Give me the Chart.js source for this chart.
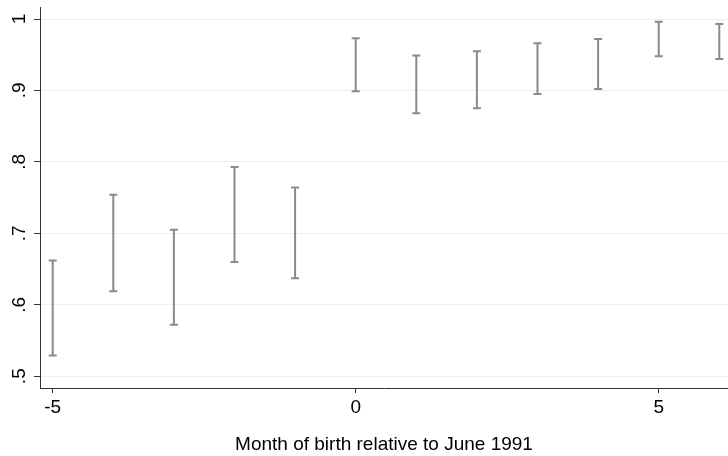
<!DOCTYPE html>
<html>
<head>
<meta charset="utf-8">
<script src="https://cdn.jsdelivr.net/npm/chart.js@4"></script>
<style>
  html, body { margin: 0; padding: 0; background: #fff; }
  #wrap { width: 728px; height: 456px; }
</style>
</head>
<body>
<div id="wrap"><canvas id="chart" width="728" height="456"></canvas></div>
<script>
// ── Data ─────────────────────────────────────────────────────────────────────
const months = [-5, -4, -3, -2, -1, 0, 1, 2, 3, 4, 5, 6];
const ciLow  = [0.529, 0.619, 0.572, 0.660, 0.637, 0.899, 0.868, 0.875, 0.895, 0.902, 0.948, 0.944];
const ciHigh = [0.662, 0.754, 0.705, 0.793, 0.764, 0.973, 0.949, 0.955, 0.966, 0.972, 0.996, 0.993];
const xTicks = [-5, 0, 5];
const yTicks = [0.5, 0.6, 0.7, 0.8, 0.9, 1];
const yTickLabels = ['.5', '.6', '.7', '.8', '.9', '1'];
const xTitle = 'Month of birth relative to June 1991';

const FONT = "'Liberation Sans', Arial, sans-serif";
const FONT_SIZE = 19;
const BAR_COLOR = '#8a8a8a';
const AXIS_COLOR = '#333333';

// ── Error-bar plugin (draws range caps through the chart scales) ─────────────
const rcapPlugin = {
  id: 'rcap',
  afterDatasetsDraw(chart) {
    const {ctx, scales: {x, y}} = chart;
    const cap = 4;
    ctx.save();
    ctx.strokeStyle = BAR_COLOR;
    ctx.lineWidth = 2;
    chart.data.datasets[0].data.forEach(d => {
      const px = x.getPixelForValue(d.x);
      const pLo = y.getPixelForValue(d.lo);
      const pHi = y.getPixelForValue(d.hi);
      ctx.beginPath();
      ctx.moveTo(px, pLo); ctx.lineTo(px, pHi);
      ctx.moveTo(px - cap, pLo); ctx.lineTo(px + cap, pLo);
      ctx.moveTo(px - cap, pHi); ctx.lineTo(px + cap, pHi);
      ctx.stroke();
    });
    ctx.restore();
  },
  afterDraw(chart) {
    const {ctx, chartArea, scales: {y}} = chart;
    ctx.save();
    ctx.fillStyle = '#000';
    ctx.font = FONT_SIZE + 'px ' + FONT;
    ctx.textAlign = 'center';
    ctx.textBaseline = 'alphabetic';
    // rotated y labels, Stata style
    yTicks.forEach((v, i) => {
      ctx.save();
      ctx.translate(25, y.getPixelForValue(v));
      ctx.rotate(-Math.PI / 2);
      ctx.fillText(yTickLabels[i], 0, 0);
      ctx.restore();
    });
    // x title
    ctx.fillText(xTitle, (chartArea.left + chartArea.right) / 2, 450);
    ctx.restore();
  }
};

// ── Chart ────────────────────────────────────────────────────────────────────
const points = months.map((m, i) => ({x: m, y: (ciLow[i] + ciHigh[i]) / 2, lo: ciLow[i], hi: ciHigh[i]}));

new Chart(document.getElementById('chart'), {
  type: 'scatter',
  data: { datasets: [{ data: points, pointRadius: 0, pointHoverRadius: 0 }] },
  options: {
    responsive: false,
    animation: false,
    layout: { padding: { top: 7, right: 0, left: 0, bottom: 0 } },
    plugins: { legend: { display: false }, tooltip: { enabled: false } },
    scales: {
      x: {
        type: 'linear',
        min: -5.2096,
        max: 6.1437,
        afterBuildTicks: s => { s.ticks = xTicks.map(v => ({value: v})); },
        afterFit: s => { s.height = 68; },
        grid: { drawOnChartArea: false, drawTicks: true, tickLength: 5, tickColor: AXIS_COLOR, tickWidth: 1 },
        border: { color: AXIS_COLOR, width: 1 },
        ticks: { color: '#000', font: { family: FONT, size: FONT_SIZE }, padding: 3, maxRotation: 0 }
      },
      y: {
        type: 'linear',
        min: 0.4835,
        max: 1.0168,
        afterBuildTicks: s => { s.ticks = yTicks.map(v => ({value: v})); },
        afterFit: s => { s.width = 40; },
        grid: { color: '#e8f0f0', lineWidth: 1, drawTicks: true, tickLength: 6, tickColor: AXIS_COLOR, tickWidth: 1 },
        border: { color: AXIS_COLOR, width: 1 },
        ticks: { display: false }
      }
    }
  },
  plugins: [rcapPlugin]
});
</script>
</body>
</html>
